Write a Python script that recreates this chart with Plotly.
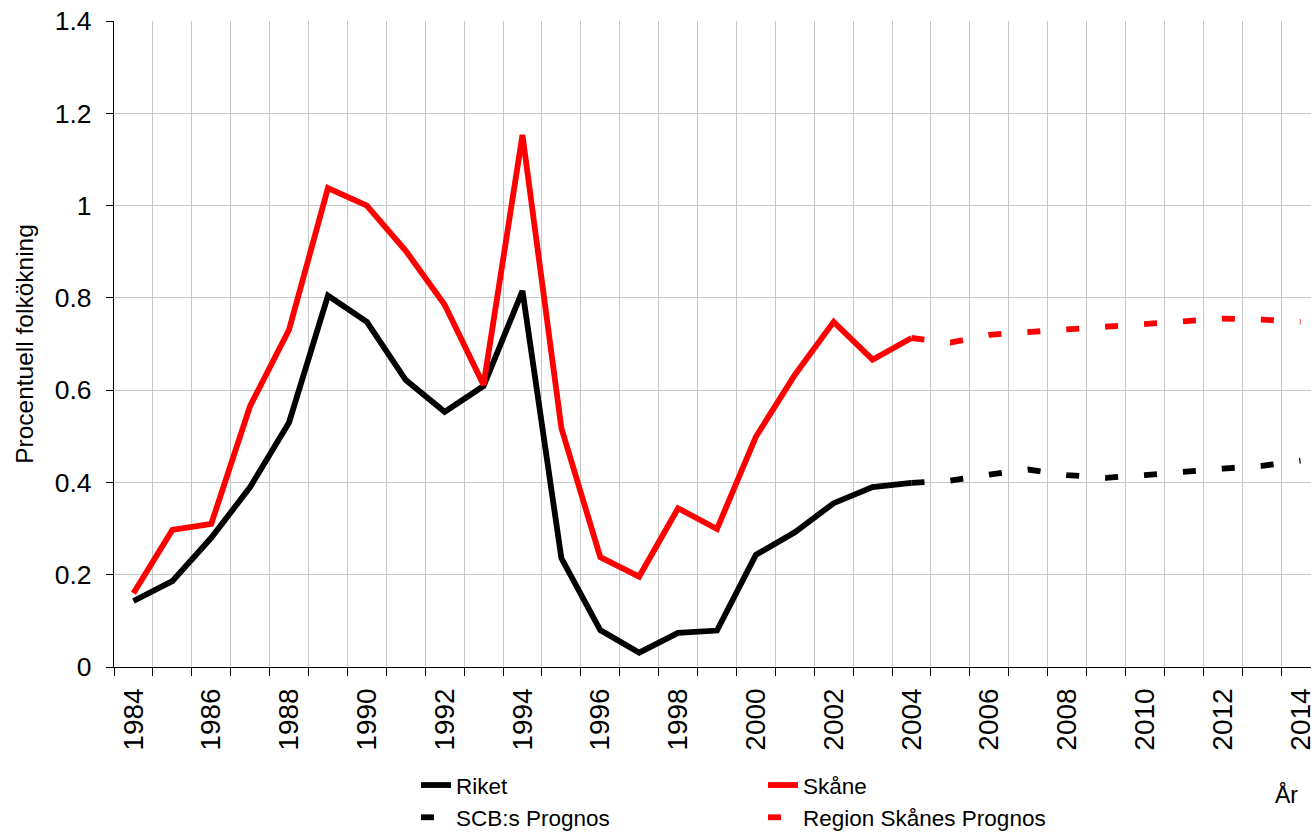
import plotly.graph_objects as go

years_hist = list(range(1984, 2005))
riket = [0.143, 0.186, 0.28, 0.39, 0.53, 0.805, 0.748, 0.622, 0.553, 0.609, 0.815,
         0.236, 0.080, 0.031, 0.074, 0.079, 0.243, 0.292, 0.355, 0.39, 0.399]
skane = [0.16, 0.297, 0.31, 0.566, 0.731, 1.038, 1.0, 0.902, 0.785, 0.611, 1.153,
         0.518, 0.238, 0.196, 0.344, 0.299, 0.499, 0.633, 0.748, 0.666, 0.713]

years_prog = list(range(2004, 2015))
scb_prognos = [0.399, 0.404, 0.417, 0.428, 0.416, 0.410, 0.416, 0.424, 0.430, 0.436, 0.447]
region_prognos = [0.713, 0.703, 0.720, 0.726, 0.733, 0.736, 0.743, 0.748, 0.755, 0.753, 0.748]

tick_years = list(range(1984, 2015, 2))
y_ticks = [0, 0.2, 0.4, 0.6, 0.8, 1.0, 1.2, 1.4]

FONT = "Liberation Sans, Arial, sans-serif"
LW = 5.8
W, H = 1311, 832
PL = 114          # plot left edge (px)
PW = W - PL       # plot width (px)

fig = go.Figure()
fig.add_trace(go.Scatter(x=years_hist, y=riket, name="Riket", mode="lines",
                         line=dict(color="black", width=LW), legend="legend"))
fig.add_trace(go.Scatter(x=years_prog, y=scb_prognos, name="SCB:s Prognos", mode="lines",
                         line=dict(color="black", width=LW, dash="13px,26px"), legend="legend"))
fig.add_trace(go.Scatter(x=years_hist, y=skane, name="Skåne", mode="lines",
                         line=dict(color="#ff0000", width=LW), legend="legend2"))
fig.add_trace(go.Scatter(x=years_prog, y=region_prognos, name="Region Skånes Prognos", mode="lines",
                         line=dict(color="#ff0000", width=LW, dash="13px,26px"), legend="legend2"))

leg_common = dict(orientation="v", xanchor="left", yanchor="top", y=-0.150,
                  font=dict(size=22.5, family=FONT), tracegroupgap=0,
                  bgcolor="rgba(0,0,0,0)", borderwidth=0)

fig.update_layout(
    width=W, height=H,
    margin=dict(l=PL, r=0, t=21, b=165, autoexpand=False),
    paper_bgcolor="white", plot_bgcolor="white",
    font=dict(family=FONT, color="black"),
    showlegend=True,
    legend=dict(x=(416 - PL) / PW, **leg_common),
    legend2=dict(x=(763 - PL) / PW, **leg_common),
    annotations=[dict(text="År", xref="paper", yref="paper", x=1.0, xanchor="right",
                      y=-0.197, yanchor="middle", showarrow=False,
                      font=dict(size=23, family=FONT), xshift=-11)],
)

fig.update_xaxes(
    range=[1983.5, 2014.27],
    tickmode="array", tickvals=tick_years, ticktext=[str(v) for v in tick_years],
    tickangle=-90, tickfont=dict(size=28, family=FONT),
    ticks="", showgrid=False, zeroline=False,
    showline=True, linecolor="black", linewidth=1.3,
    minor=dict(tickmode="linear", tick0=1983.5, dtick=1, ticks="outside", ticklen=8,
               tickcolor="black", showgrid=True, gridcolor="#c8c8c8", gridwidth=1),
    ticklabelstandoff=9, ticklabeloverflow="allow",
)
fig.update_yaxes(
    range=[0, 1.4], tickmode="array", tickvals=y_ticks,
    ticktext=["0", "0.2", "0.4", "0.6", "0.8", "1", "1.2", "1.4"],
    tickfont=dict(size=26.5, family=FONT),
    ticks="outside", ticklen=7, tickcolor="black",
    showgrid=True, gridcolor="#c8c8c8", gridwidth=1, zeroline=False,
    showline=True, linecolor="black", linewidth=1.3,
    ticklabelstandoff=9, ticklabeloverflow="allow",
    title=dict(text="Procentuell folkökning", font=dict(size=24.5, family=FONT), standoff=14),
)

fig.write_html(
    "out.html",
    config={"displayModeBar": False},
    post_script="document.body.style.margin='0';document.body.style.overflow='hidden';",
)
